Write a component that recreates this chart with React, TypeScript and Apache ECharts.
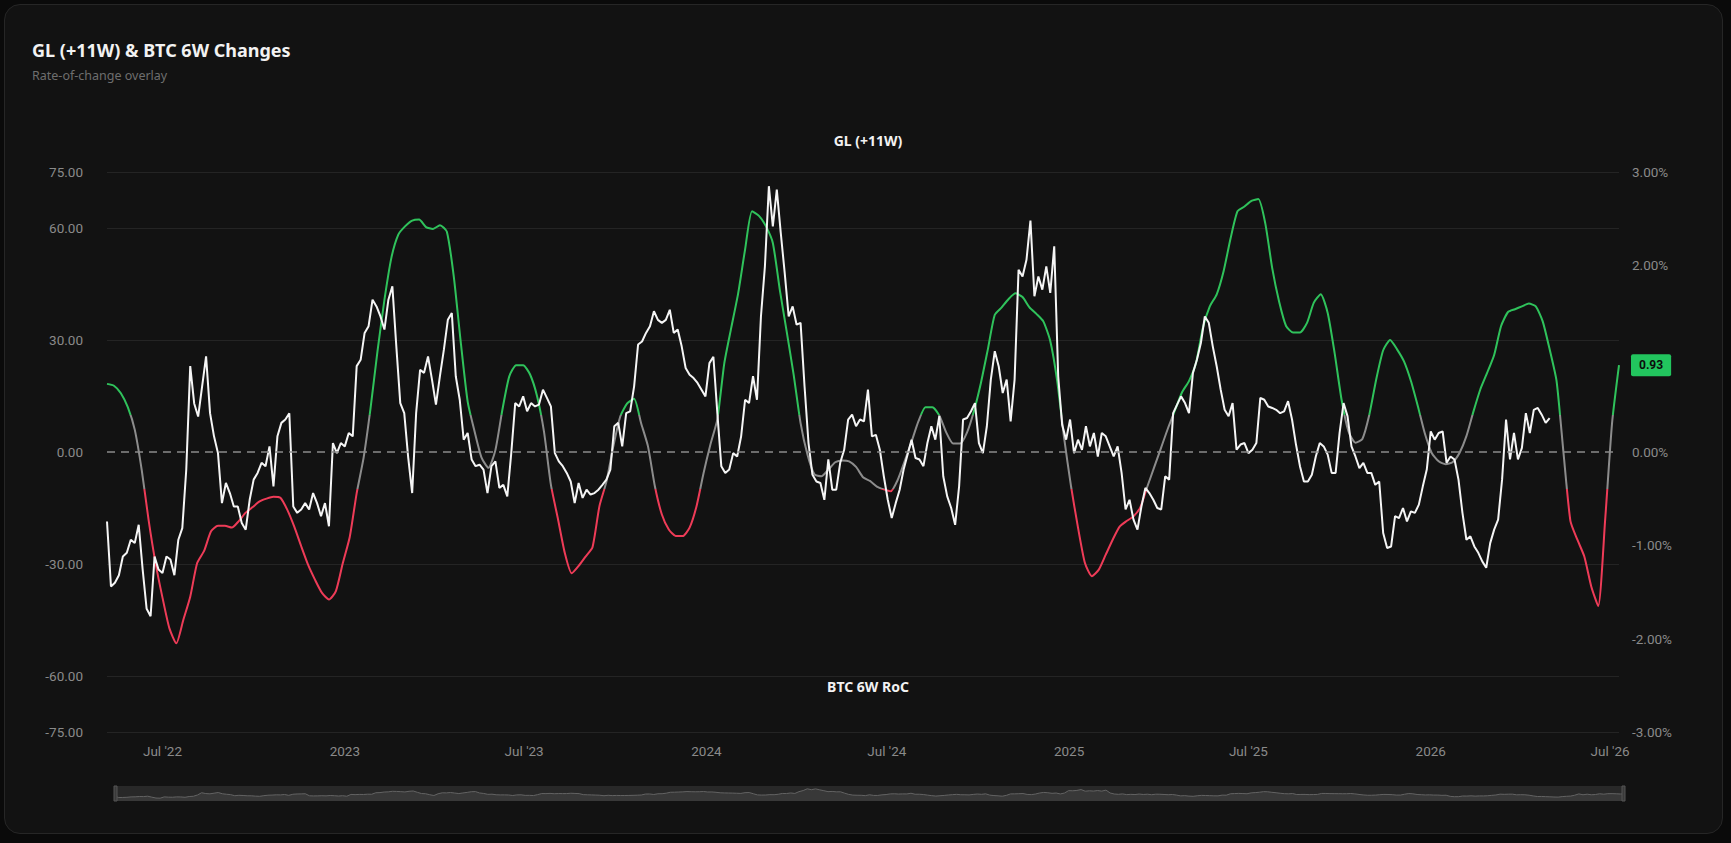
import React, { useEffect, useRef } from 'react';
import * as echarts from 'echarts';

// BTC 6W rate of change, one reading every 4 days from 2022-05-06
const BTC_START: [number, number, number] = [2022, 4, 6];
const BTC_STEP_DAYS = 4;
const btcRoc = [
  -18.6, -36, -35, -33, -28, -27, -23.5, -24.4, -19.5, -31.5,
  -42, -44, -28, -31.5, -32.4, -28, -28.8, -33, -23.5, -20.4,
  -4.7, 23, 13, 9.5, 17.6, 25.6, 10.4, 4.2, -0.3, -13.7,
  -8.3, -11, -14.6, -14.6, -19, -20.8, -12.8, -7.4, -5.6, -2.9,
  -3.8, 1.5, -9.2, 4.2, 7.8, 8.7, 10.4, -14.6, -16.3, -15.4,
  -13.7, -15.4, -11, -13.7, -17.2, -13.7, -19.9, 2.4, -0.3, 2.4,
  1.5, 5.1, 4.2, 23, 24.7, 31.9, 33.7, 40.8, 39, 36.3,
  32.8, 40.8, 44.4, 28.3, 13.1, 10.4, -1.5, -11, 10.4, 22,
  21.2, 25.6, 19.4, 12.7, 20.3, 27.4, 35.4, 37.2, 20.3, 14,
  3.3, 5.1, -2, -3.8, -3.4, -4.7, -11, -3.8, -2.5, -9.6,
  -8.8, -11.9, -0.3, 13.1, 12.2, 14.9, 10.9, 13.1, 12.2, 12.7,
  16.7, 14.5, 12.2, -0.3, -2.5, -3.8, -5.6, -7.9, -13.7, -8.3,
  -12.3, -10.1, -11.4, -11, -10.1, -8.8, -7.4, -4.7, 6.9, 7.8,
  1.5, 10.4, 10.9, 17.6, 28.8, 29.6, 31.9, 33.7, 37.7, 35.4,
  34.6, 35.4, 38.1, 31.9, 32.8, 28.3, 22.5, 20.7, 19.8, 18.5,
  16.7, 14.9, 23.8, 25.5, 10.4, -3.8, -5.6, -4.7, -0.3, -1.2,
  4.2, 14, 13.1, 20.3, 14, 36.3, 49.7, 71.2, 60.4, 70.3,
  58.7, 47.9, 36.3, 39, 34.1, 34.6, 17.6, 2.4, -6.1, -7.9,
  -8.3, -12.8, -2, -10.1, -10.1, -2.9, 0.6, 8.7, 10, 6.9,
  8.7, 8.2, 16.7, 4.2, 4.6, 0.6, -6.5, -12.8, -17.7, -13.7,
  -10.1, -4.7, -0.7, 3.3, -1.6, -2, -3.8, 2.4, 6.9, 3.3,
  9.6, -6.5, -11.9, -15, -19.5, -9.2, 8.7, 9.1, 10.9, 13.1,
  2.4, -0.3, 6.9, 19.4, 27, 22.9, 15.8, 19.4, 8.2, 19.4,
  48.8, 47, 51.5, 62, 41.7, 47, 43.5, 49.7, 42.6, 55.1,
  20.3, 7.3, 3.3, 8.7, -0.3, 3.3, 0.6, 6.9, 1.5, 5.1,
  -1.2, 5.1, 4.2, 1.5, -1.2, 1.5, -5.6, -15.4, -12.8, -18.1,
  -20.8, -14.6, -9.6, -11, -12.8, -15, -15.4, -6.5, -7.4, 10.4,
  12.7, 14.9, 13.1, 10.4, 21.2, 24.7, 29.2, 36.3, 34.6, 28.3,
  22.9, 16.7, 11.3, 9.6, 13.1, 0.6, 2, 2.4, -0.3, 0.6,
  2.4, 14.5, 14, 12.2, 11.8, 11.3, 10.4, 10.9, 13.6, 8.7,
  2, -3.8, -7.9, -7.9, -6.1, -1.2, 2.4, 1.5, -0.7, -5.6,
  -5.6, 5.1, 13.1, 9.6, 1.5, -1.2, -4.3, -2.9, -5.6, -5.6,
  -8.8, -7.9, -21.7, -25.7, -25.3, -17.2, -17.7, -15, -18.6, -15.9,
  -16.3, -14.1, -9.2, -4.7, 5.5, 3.3, 5.1, 5.5, -2.9, -1.2,
  -2, -7.4, -16.3, -23.5, -22.6, -25.3, -27, -29.3, -31, -24.4,
  -20.8, -18.1, -7.4, 8.7, -2, 5.1, -2, 1.1, 10.4, 5.1,
  11.3, 11.8, 10, 7.8, 9.1,
];

// GL (+11W) change in %, weekly from 2022-05-06
const GL_START: [number, number, number] = [2022, 4, 6];
const GL_STEP_DAYS = 7;
const glChange = [
  0.73, 0.71, 0.63, 0.48, 0.24, -0.19, -0.73, -1.19, -1.56, -1.89,
  -2.05, -1.8, -1.55, -1.19, -1.06, -0.85, -0.79, -0.79, -0.81, -0.74,
  -0.65, -0.59, -0.53, -0.5, -0.48, -0.49, -0.62, -0.8, -1.01, -1.21,
  -1.37, -1.51, -1.58, -1.49, -1.19, -0.91, -0.44, -0.06, 0.47, 1.08,
  1.63, 2.08, 2.33, 2.42, 2.48, 2.49, 2.41, 2.39, 2.43, 2.36,
  1.88, 1.18, 0.54, 0.22, -0.06, -0.17, 0.02, 0.45, 0.81, 0.93,
  0.93, 0.83, 0.6, 0.22, -0.35, -0.71, -1.08, -1.3, -1.22, -1.12,
  -1.02, -0.58, -0.32, 0.06, 0.38, 0.52, 0.57, 0.31, 0.06, -0.37,
  -0.67, -0.83, -0.9, -0.9, -0.81, -0.58, -0.23, 0.08, 0.35, 0.95,
  1.33, 1.7, 2.17, 2.58, 2.53, 2.42, 2.24, 1.74, 1.29, 0.83,
  0.31, -0.03, -0.24, -0.26, -0.19, -0.11, -0.09, -0.1, -0.16, -0.27,
  -0.31, -0.37, -0.4, -0.42, -0.3, -0.1, 0.11, 0.33, 0.48, 0.48,
  0.39, 0.21, 0.09, 0.09, 0.21, 0.44, 0.74, 1.1, 1.47, 1.55,
  1.64, 1.7, 1.66, 1.55, 1.48, 1.4, 1.19, 0.76, 0.15, -0.37,
  -0.81, -1.19, -1.33, -1.26, -1.1, -0.94, -0.8, -0.74, -0.69, -0.59,
  -0.37, -0.16, 0.05, 0.26, 0.45, 0.64, 0.76, 0.95, 1.33, 1.56,
  1.69, 1.94, 2.29, 2.58, 2.63, 2.69, 2.71, 2.45, 1.97, 1.61,
  1.35, 1.28, 1.28, 1.38, 1.6, 1.69, 1.49, 1.06, 0.56, 0.22,
  0.1, 0.14, 0.4, 0.78, 1.09, 1.2, 1.1, 0.97, 0.76, 0.49,
  0.2, -0.01, -0.1, -0.13, -0.11, -0.01, 0.17, 0.43, 0.67, 0.85,
  1.04, 1.35, 1.5, 1.53, 1.56, 1.59, 1.56, 1.4, 1.1, 0.76,
  -0.01, -0.74, -0.94, -1.12, -1.44, -1.65, -0.73, 0.31, 0.93,
];

const leftTicks = [75, 60, 30, 0, -30, -60, -75];
const xLabelDates = [
  [2022, 6, 1], [2023, 0, 1], [2023, 6, 1], [2024, 0, 1], [2024, 6, 1],
  [2025, 0, 1], [2025, 6, 1], [2026, 0, 1], [2026, 6, 1],
];
const MONTHS = ['Jan', 'Feb', 'Mar', 'Apr', 'May', 'Jun', 'Jul', 'Aug', 'Sep', 'Oct', 'Nov', 'Dec'];

const toSeries = (start: [number, number, number], step: number, values: number[]) =>
  values.map((v, i) => [new Date(start[0], start[1], start[2] + i * step).getTime(), v]);

const GREEN = '#2fc25b';
const RED = '#ee3b57';
const NEUTRAL = '#8c8c8c';
const LABEL = '#8a8a8a';

const App: React.FC = () => {
  const chartRef = useRef<HTMLDivElement>(null);

  useEffect(() => {
    const chart = echarts.init(chartRef.current!, undefined, { renderer: 'svg' });

    const leftSteps: number[] = [];
    for (let v = -75; v <= 75; v += 15) leftSteps.push(v);
    const splitColors = leftSteps.map((v) =>
      leftTicks.includes(v) && v !== 0 ? '#242424' : 'rgba(0,0,0,0)'
    );

    chart.setOption({
      animation: false,
      backgroundColor: 'transparent',
      textStyle: { fontFamily: 'Roboto' },
      title: [
        {
          text: 'GL (+11W) & BTC 6W Changes',
          subtext: 'Rate-of-change overlay',
          left: 27,
          top: 36,
          itemGap: 10,
          textStyle: { color: '#f2f2f2', fontSize: 18, fontWeight: 'bold', fontFamily: 'Noto Sans' },
          subtextStyle: { color: '#6e6e6e', fontSize: 12.5, fontFamily: 'Noto Sans' },
        },
        {
          text: 'GL (+11W)',
          left: 863,
          top: 128,
          textAlign: 'center',
          textStyle: { color: '#f2f2f2', fontSize: 14, fontWeight: 'bold', fontFamily: 'Noto Sans' },
        },
        {
          text: 'BTC 6W RoC',
          left: 863,
          top: 674,
          textAlign: 'center',
          textStyle: { color: '#f2f2f2', fontSize: 14, fontWeight: 'bold', fontFamily: 'Noto Sans' },
        },
      ],
      grid: { left: 107, right: 112, top: 172, bottom: 111 },
      xAxis: {
        type: 'value',
        min: new Date(2022, 4, 6).getTime(),
        max: new Date(2026, 6, 10).getTime(),
        axisLine: { show: false },
        axisTick: { show: false },
        splitLine: { show: false },
        axisLabel: {
          color: LABEL,
          fontSize: 13.5,
          margin: 12,
          hideOverlap: false,
          customValues: xLabelDates.map((d) => new Date(d[0], d[1], d[2]).getTime()),
          formatter: (val: number) => {
            const d = new Date(val);
            return d.getMonth() === 0
              ? String(d.getFullYear())
              : `${MONTHS[d.getMonth()]} '${String(d.getFullYear()).slice(2)}`;
          },
        },
      },
      yAxis: [
        {
          type: 'value',
          min: -75,
          max: 75,
          interval: 15,
          axisLine: { show: false },
          axisTick: { show: false },
          splitLine: { show: true, lineStyle: { color: splitColors, width: 1 } },
          axisLabel: {
            color: LABEL,
            fontSize: 13.5,
            margin: 24,
            formatter: (v: number) => (leftTicks.includes(v) ? v.toFixed(2) : ''),
          },
        },
        {
          type: 'value',
          min: -3,
          max: 3,
          interval: 1,
          axisLine: { show: false },
          axisTick: { show: false },
          splitLine: { show: false },
          axisLabel: {
            color: LABEL,
            fontSize: 13.5,
            margin: 13,
            formatter: (v: number) => `${v.toFixed(2)}%`,
          },
        },
      ],
      visualMap: {
        show: false,
        type: 'piecewise',
        seriesIndex: 1,
        dimension: 1,
        pieces: [
          { gt: 0.4, color: GREEN },
          { gte: -0.4, lte: 0.4, color: NEUTRAL },
          { lt: -0.4, color: RED },
        ],
      },
      dataZoom: [
        {
          type: 'slider',
          xAxisIndex: 0,
          start: 0,
          end: 100,
          left: 112,
          right: 109,
          top: 786,
          height: 15,
          showDetail: false,
          brushSelect: false,
          moveHandleSize: 0,
          borderColor: 'transparent',
          backgroundColor: '#1b1b1b',
          fillerColor: 'rgba(255,255,255,0.06)',
          handleIcon: 'path://M0,0 L2,0 L2,10 L0,10 Z',
          handleSize: '100%',
          handleStyle: { color: '#3a3a3a', borderColor: '#555' },
          dataBackground: {
            lineStyle: { color: '#5a5a5a', width: 1 },
            areaStyle: { color: '#2c2c2c', opacity: 1 },
          },
          selectedDataBackground: {
            lineStyle: { color: '#5a5a5a', width: 1 },
            areaStyle: { color: '#2c2c2c', opacity: 1 },
          },
        },
      ],
      series: [
        {
          name: 'BTC 6W RoC',
          type: 'line',
          yAxisIndex: 0,
          z: 3,
          showSymbol: false,
          symbol: 'none',
          data: toSeries(BTC_START, BTC_STEP_DAYS, btcRoc),
          lineStyle: { color: '#f5f5f5', width: 2 },
          markLine: {
            silent: true,
            symbol: 'none',
            label: { show: false },
            lineStyle: { color: '#8a8a8a', type: [8, 6], width: 1.5 },
            data: [{ yAxis: 0 }],
          },
        },
        {
          name: 'GL (+11W)',
          type: 'line',
          yAxisIndex: 1,
          z: 2,
          showSymbol: false,
          symbol: 'none',
          smooth: 0.2,
          data: toSeries(GL_START, GL_STEP_DAYS, glChange),
          lineStyle: { width: 2 },
          endLabel: {
            show: true,
            distance: 12,
            formatter: (p: any) => p.value[1].toFixed(2),
            backgroundColor: '#22c55e',
            color: '#0c0c0c',
            fontSize: 12,
            fontWeight: 'bold',
            padding: [5, 8],
            borderRadius: 2,
          },
        },
      ],
    });

    return () => {
      chart.dispose();
    };
  }, []);

  return (
    <div style={{ position: 'fixed', inset: 0, background: '#0a0a0a' }}>
      <div
        style={{
          position: 'absolute',
          left: 4,
          top: 4,
          width: 1717,
          height: 828,
          background: '#121212',
          border: '1px solid #262626',
          borderRadius: 16,
        }}
      />
      <div
        ref={chartRef}
        style={{ position: 'absolute', left: 0, top: 0, width: '1731px', height: '843px' }}
      />
    </div>
  );
};

export default App;
